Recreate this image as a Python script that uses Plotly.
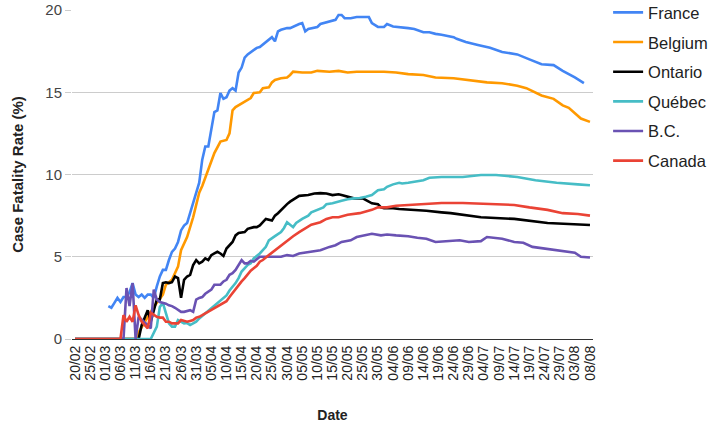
import pandas as pd
import plotly.graph_objects as go

# ---------------- data ----------------
france_dates = ["02/03","03/03","04/03","05/03","06/03","07/03","08/03","09/03","10/03","11/03",
                "12/03","13/03","14/03","15/03","16/03","17/03","18/03","19/03","20/03","21/03",
                "22/03","23/03","24/03","25/03","26/03","27/03","28/03","29/03","30/03","31/03",
                "01/04","02/04","03/04","04/04","05/04","06/04","07/04","08/04","09/04","10/04",
                "11/04","12/04","13/04","14/04","15/04","16/04","17/04","18/04","19/04","20/04",
                "21/04","22/04","23/04","24/04","25/04","26/04","27/04","28/04","29/04","30/04",
                "01/05","02/05","03/05","04/05","05/05","06/05","07/05","08/05","10/05","11/05",
                "12/05","14/05","16/05","17/05","18/05","19/05","21/05","23/05","27/05","28/05",
                "29/05","30/05","01/06","02/06","04/06","06/06","09/06","11/06","14/06","16/06",
                "18/06","20/06","24/06","25/06","28/06","02/07","06/07","10/07","15/07","19/07",
                "23/07","27/07","30/07","03/08","06/08"]
france_vals = [2.0,1.9,2.2,2.5,2.25,2.55,2.55,2.85,3.4,2.7,
               2.55,2.7,2.5,2.7,2.7,2.5,3.2,3.8,4.2,4.2,
               4.8,5.3,5.5,5.9,6.6,6.9,7.05,7.65,8.25,8.9,
               9.5,10.9,11.7,11.7,12.9,13.8,13.9,14.95,14.6,14.7,
               15.1,15.25,15.1,16.2,16.5,17.1,17.3,17.45,17.6,17.7,
               17.75,17.9,18.05,18.2,18.35,18.1,18.7,18.8,18.85,18.9,
               18.9,19.0,19.05,19.15,19.2,18.7,18.85,18.9,18.97,19.15,
               19.2,19.33,19.4,19.7,19.7,19.5,19.5,19.57,19.57,19.2,
               19.1,18.97,18.97,19.15,19.0,18.97,18.9,18.85,18.65,18.65,
               18.55,18.5,18.35,18.25,18.05,17.87,17.7,17.45,17.3,17.0,
               16.7,16.65,16.3,15.9,15.55]

belgium_dates = ["20/02","11/03","12/03","13/03","14/03","16/03","17/03","20/03","21/03","23/03",
                 "25/03","26/03","28/03","30/03","31/03","01/04","02/04","03/04","04/04","05/04",
                 "06/04","08/04","10/04","11/04","12/04","13/04","14/04","15/04","16/04","18/04",
                 "19/04","21/04","22/04","24/04","25/04","26/04","28/04","30/04","01/05","02/05",
                 "05/05","08/05","10/05","14/05","17/05","20/05","23/05","01/06","05/06","09/06",
                 "14/06","18/06","24/06","29/06","05/07","10/07","15/07","18/07","21/07","23/07",
                 "27/07","30/07","01/08","03/08","05/08","08/08"]
belgium_vals = [0,0,0.4,0.7,1.0,1.6,1.95,2.7,3.3,3.6,
                4.4,5.4,6.2,7.4,8.25,8.9,9.3,9.8,10.3,10.7,
                11.3,12.0,12.1,12.5,13.9,14.1,14.2,14.3,14.4,14.65,
                14.95,15.0,15.25,15.3,15.6,15.75,15.85,15.9,16.05,16.25,
                16.2,16.2,16.3,16.25,16.3,16.2,16.25,16.25,16.2,16.1,
                16.05,15.9,15.85,15.75,15.6,15.55,15.4,15.25,15.0,14.8,
                14.6,14.2,14.05,13.7,13.4,13.2]

ontario_dates = ["20/02","12/03","13/03","14/03","15/03","16/03","17/03","18/03","19/03","20/03",
                 "21/03","22/03","23/03","24/03","25/03","26/03","27/03","28/03","29/03","30/03",
                 "31/03","01/04","02/04","03/04","04/04","05/04","06/04","07/04","08/04","09/04",
                 "10/04","11/04","12/04","13/04","14/04","16/04","17/04","19/04","20/04","21/04",
                 "22/04","23/04","25/04","26/04","27/04","28/04","29/04","30/04","01/05","02/05",
                 "03/05","04/05","07/05","09/05","11/05","13/05","15/05","17/05","18/05","20/05",
                 "22/05","25/05","26/05","28/05","30/05","31/05","01/06","04/06","06/06","11/06",
                 "15/06","20/06","23/06","03/07","14/07","25/07","30/07","08/08"]
ontario_vals = [0,0,0.85,1.3,1.75,1.05,1.65,2.4,2.4,3.4,
                3.45,3.4,3.45,3.8,3.7,2.5,3.6,3.8,3.9,4.5,
                4.8,4.6,4.7,4.9,4.8,5.1,5.2,5.3,5.2,5.05,
                5.5,5.7,5.9,6.3,6.45,6.5,6.7,6.8,6.8,6.9,
                7.1,7.3,7.2,7.5,7.65,7.85,8.0,8.2,8.35,8.45,
                8.55,8.7,8.75,8.85,8.87,8.85,8.75,8.8,8.75,8.65,
                8.55,8.55,8.45,8.25,8.2,8.0,7.95,7.95,7.9,7.85,
                7.8,7.7,7.65,7.4,7.3,7.05,7.0,6.93]

quebec_dates = ["20/02","16/03","18/03","19/03","20/03","21/03","22/03","23/03","24/03","25/03",
                "26/03","27/03","28/03","29/03","30/03","31/03","01/04","03/04","04/04","05/04",
                "06/04","08/04","10/04","11/04","13/04","14/04","15/04","17/04","18/04","19/04",
                "21/04","23/04","24/04","26/04","28/04","29/04","30/04","02/05","03/05","05/05",
                "07/05","08/05","10/05","12/05","13/05","15/05","18/05","20/05","22/05","24/05",
                "26/05","28/05","30/05","01/06","02/06","04/06","06/06","07/06","09/06","11/06",
                "14/06","16/06","20/06","27/06","03/07","08/07","15/07","21/07","28/07","04/08",
                "08/08"]
quebec_vals = [0,0,0.75,1.95,2.2,1.6,0.95,0.75,0.75,1.15,
               1.05,0.95,0.97,0.85,0.95,1.05,1.25,1.55,1.75,1.9,
               2.05,2.35,2.65,2.95,3.4,3.7,4.1,4.5,4.6,4.9,
               5.2,5.6,6.0,6.25,6.5,6.75,7.1,6.8,7.05,7.3,
               7.5,7.7,7.85,8.0,8.2,8.25,8.4,8.5,8.55,8.57,
               8.65,8.75,9.05,9.1,9.25,9.4,9.5,9.45,9.5,9.55,
               9.65,9.8,9.85,9.85,9.97,9.97,9.85,9.65,9.5,9.4,
               9.35]

bc_dates = ["20/02","07/03","08/03","09/03","10/03","11/03","12/03","13/03","14/03","15/03",
            "16/03","17/03","18/03","19/03","20/03","21/03","22/03","23/03","24/03","25/03",
            "26/03","27/03","28/03","29/03","30/03","31/03","01/04","02/04","03/04","04/04",
            "05/04","06/04","08/04","09/04","10/04","11/04","12/04","13/04","14/04","15/04",
            "16/04","17/04","18/04","19/04","20/04","21/04","25/04","28/04","30/04","02/05",
            "04/05","08/05","11/05","14/05","16/05","18/05","21/05","23/05","26/05","28/05",
            "31/05","02/06","05/06","09/06","12/06","15/06","18/06","23/06","26/06","29/06",
            "03/07","05/07","08/07","10/07","14/07","17/07","20/07","24/07","28/07","01/08",
            "03/08","05/08","08/08"]
bc_vals = [0,0,3.1,2.0,3.4,0,1.35,1.15,1.0,0.85,
           0.65,3.0,2.4,2.25,2.2,2.15,2.05,2.0,1.9,1.75,
           1.65,1.65,1.7,1.75,1.65,2.4,2.5,2.55,2.75,2.85,
           3.0,3.3,3.3,3.5,3.6,3.9,4.0,4.2,4.5,4.8,
           4.6,4.6,4.75,4.7,4.85,5.0,5.0,5.0,5.1,5.05,
           5.2,5.3,5.4,5.6,5.7,5.9,6.0,6.2,6.3,6.4,
           6.3,6.35,6.3,6.25,6.15,6.1,5.9,5.95,6.0,5.9,
           5.95,6.2,6.15,6.1,5.9,5.85,5.6,5.5,5.4,5.3,
           5.25,5.0,4.95]

canada_dates = ["20/02","06/03","07/03","08/03","09/03","10/03","11/03","12/03","13/03","14/03",
                "15/03","16/03","17/03","18/03","19/03","20/03","21/03","22/03","23/03","25/03",
                "26/03","27/03","28/03","29/03","30/03","31/03","01/04","02/04","03/04","04/04",
                "05/04","06/04","07/04","08/04","09/04","10/04","11/04","12/04","13/04","14/04",
                "15/04","16/04","17/04","18/04","19/04","20/04","21/04","22/04","24/04","26/04",
                "28/04","30/04","02/05","04/05","06/05","08/05","11/05","13/05","15/05","17/05",
                "20/05","22/05","24/05","26/05","28/05","30/05","02/06","05/06","09/06","15/06",
                "20/06","27/06","05/07","14/07","19/07","25/07","30/07","04/08","08/08"]
canada_vals = [0,0,1.45,1.05,1.35,1.05,2.05,1.45,1.05,0.85,
               0.65,1.6,1.45,1.35,1.3,1.3,1.05,1.05,0.95,0.95,
               1.15,1.1,1.05,1.1,1.15,1.3,1.35,1.45,1.55,1.65,
               1.8,1.9,2.0,2.05,2.2,2.3,2.55,2.8,3.0,3.3,
               3.5,3.7,3.95,4.15,4.3,4.45,4.7,4.8,5.1,5.4,
               5.7,5.95,6.25,6.5,6.75,6.95,7.1,7.3,7.4,7.4,
               7.55,7.6,7.65,7.75,7.85,8.0,8.0,8.1,8.15,8.25,
               8.27,8.27,8.2,8.15,8.0,7.85,7.65,7.6,7.5]

series = [
    ("France", france_dates, france_vals, "#4285F4"),
    ("Belgium", belgium_dates, belgium_vals, "#FF9900"),
    ("Ontario", ontario_dates, ontario_vals, "#000000"),
    ("Québec", quebec_dates, quebec_vals, "#46BDC6"),
    ("B.C.", bc_dates, bc_vals, "#6A52B3"),
    ("Canada", canada_dates, canada_vals, "#EA4335"),
]

def to_dates(lst):
    return pd.to_datetime([d + "/2020" for d in lst], format="%d/%m/%Y")

FONT = "Liberation Sans, Arial, sans-serif"

fig = go.Figure()
for i, (name, dates, vals, color) in enumerate(series):
    fig.add_trace(go.Scatter(
        x=to_dates(dates), y=vals, mode="lines", name=name,
        line=dict(color=color, width=2.6), legendgroup=f"g{i}",
    ))

fig.update_layout(
    width=714, height=423,
    margin=dict(l=72, r=121, t=10, b=84, autoexpand=False),
    paper_bgcolor="white", plot_bgcolor="white",
    font=dict(family=FONT, color="#222"),
    showlegend=True,
    legend=dict(x=1.029, y=1.045, xanchor="left", yanchor="top",
                font=dict(size=16.5, color="#222"), tracegroupgap=5.2,
                bgcolor="rgba(0,0,0,0)"),
    xaxis=dict(
        type="date", automargin=False,
        range=["2020-02-19", "2020-08-09"],
        tick0="2020-02-20", dtick=5 * 86400000, tickformat="%d/%m",
        tickangle=-90, tickfont=dict(size=14, color="#222"),
        showgrid=False, showline=True, linecolor="#333", linewidth=1,
        ticks="", zeroline=False,
        title=dict(text="<b>Date</b>", font=dict(size=14, color="#222"), standoff=30),
    ),
    yaxis=dict(
        automargin=False,
        range=[0, 20], dtick=5, tickfont=dict(size=15, color="#444"),
        showgrid=True, gridcolor="#cccccc", zeroline=False,
        ticks="outside", ticklen=6, tickcolor="#cccccc",
        title=dict(text="<b>Case Fatality Rate (%)</b>", font=dict(size=15, color="#222"), standoff=18),
    ),
)

fig.write_html("out.html", config={"displayModeBar": False},
               post_script="document.body.style.margin='0';")
